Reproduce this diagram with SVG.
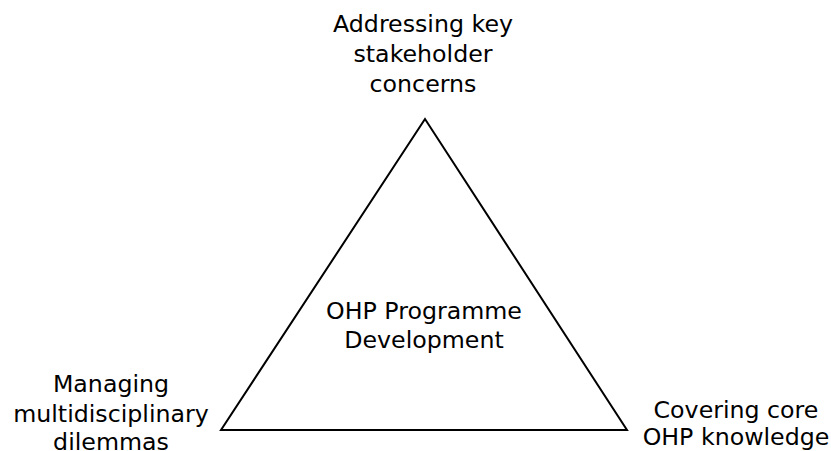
<svg xmlns="http://www.w3.org/2000/svg" width="831" height="451" viewBox="0 0 831 451">
<style>
text{font-family:"DejaVu Sans","Liberation Sans",sans-serif;font-size:23.7px;fill:#000;text-anchor:middle}
.tri{fill:none;stroke:#000;stroke-width:2}
</style>
<rect width="831" height="451" fill="#fff"/>
<g id="triangle"><polygon class="tri" points="425,119 221,430 627,430"/></g>
<g id="center"><text x="424" y="319">OHP Programme</text><text x="424" y="348">Development</text></g>
<g id="top"><text x="423" y="32">Addressing key</text><text x="423" y="62">stakeholder</text><text x="423" y="92">concerns</text></g>
<g id="left"><text x="111" y="392">Managing</text><text x="111" y="422">multidisciplinary</text><text x="111" y="450">dilemmas</text></g>
<g id="right"><text x="736" y="418">Covering core</text><text x="736" y="445">OHP knowledge</text></g>
<g id="connectors"></g>
</svg>
